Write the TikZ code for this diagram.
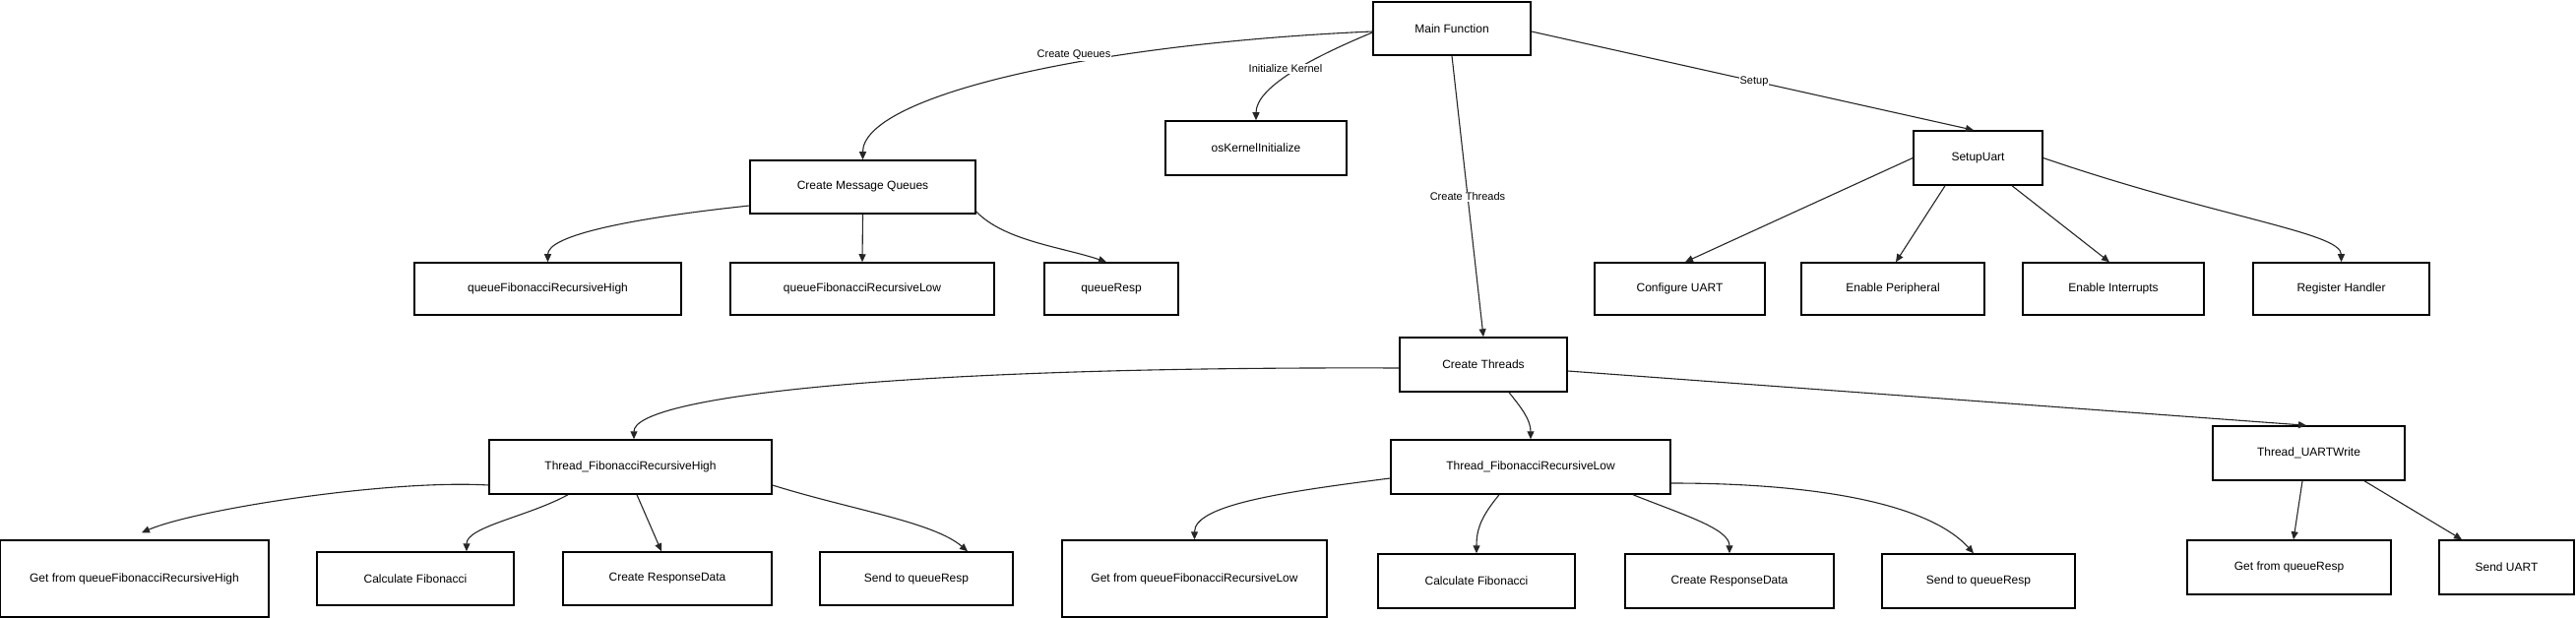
\documentclass[tikz,border=0pt]{standalone}
\usepackage{fontspec}
\setmainfont{Liberation Sans}
\usetikzlibrary{arrows.meta,calc}
\begin{document}
\begin{tikzpicture}[x=1pt,y=-1pt,
  box/.style={draw=black,line width=1.5pt,fill=white,inner sep=0pt,align=center,font=\fontsize{12}{14}\selectfont},
  conn/.style={draw=black!85,line width=1.1pt,-{Triangle[length=8pt,width=7pt]}},
  lbl/.style={fill=white,inner sep=1pt,font=\fontsize{11}{13}\selectfont}]
\fill[white] (0,0) rectangle (2617,628);
\useasboundingbox (0,0) rectangle (2617,628);

% top level
\node[box,minimum width=160pt,minimum height=54pt] (main) at (1475,29) {Main Function};
\node[box,minimum width=184pt,minimum height=55pt] (osk) at (1276,150.5) {osKernelInitialize};
\node[box,minimum width=229pt,minimum height=54pt] (cmq) at (876.5,190) {Create Message Queues};
\node[box,minimum width=131pt,minimum height=55pt] (setup) at (2009.5,160.5) {SetupUart};
\node[box,minimum width=170pt,minimum height=55pt] (ct) at (1507,370.5) {Create Threads};

% queue row
\node[box,minimum width=271pt,minimum height=53pt] (qh) at (556.5,293.5) {queueFibonacciRecursiveHigh};
\node[box,minimum width=268pt,minimum height=53pt] (ql) at (876,293.5) {queueFibonacciRecursiveLow};
\node[box,minimum width=136pt,minimum height=53pt] (qr) at (1129,293.5) {queueResp};

% uart row
\node[box,minimum width=173pt,minimum height=53pt] (cu) at (1706.5,293.5) {Configure UART};
\node[box,minimum width=186pt,minimum height=53pt] (ep) at (1923,293.5) {Enable Peripheral};
\node[box,minimum width=184pt,minimum height=53pt] (ei) at (2147,293.5) {Enable Interrupts};
\node[box,minimum width=179pt,minimum height=53pt] (rh) at (2378.5,293.5) {Register Handler};

% threads
\node[box,minimum width=287pt,minimum height=55pt] (th) at (640.5,474.5) {Thread\_FibonacciRecursiveHigh};
\node[box,minimum width=284pt,minimum height=55pt] (tl) at (1555,474.5) {Thread\_FibonacciRecursiveLow};
\node[box,minimum width=195pt,minimum height=55pt] (tu) at (2345.5,460.5) {Thread\_UARTWrite};

% bottom row
\node[box,minimum width=273pt,minimum height=78pt] (gh) at (136.5,588) {Get from queueFibonacciRecursiveHigh};
\node[box,minimum width=200pt,minimum height=54pt] (cf1) at (422,588) {Calculate Fibonacci};
\node[box,minimum width=212pt,minimum height=54pt] (cr1) at (678,588) {Create ResponseData};
\node[box,minimum width=196pt,minimum height=54pt] (sq1) at (931,588) {Send to queueResp};
\node[box,minimum width=269pt,minimum height=78pt] (gl) at (1213.5,588) {Get from queueFibonacciRecursiveLow};
\node[box,minimum width=200pt,minimum height=55pt] (cf2) at (1500,590.5) {Calculate Fibonacci};
\node[box,minimum width=212pt,minimum height=55pt] (cr2) at (1757,590.5) {Create ResponseData};
\node[box,minimum width=196pt,minimum height=55pt] (sq2) at (2010,590.5) {Send to queueResp};
\node[box,minimum width=207pt,minimum height=55pt] (gr) at (2325.5,576.5) {Get from queueResp};
\node[box,minimum width=137pt,minimum height=55pt] (su) at (2546.5,576.5) {Send UART};

% main edges
\draw[conn] ([yshift=-3pt]main.west) .. controls +(-295,13) and +(0,-63) .. (cmq.north);
\draw[conn] ([yshift=-4pt]main.west) .. controls +(-65,27) and +(0,-33) .. (osk.north);
\draw[conn] (main.south) -- (ct.north);
\draw[conn] ([yshift=-3pt]main.east) -- ([xshift=-4.5pt]setup.north);

% queues
\draw[conn] ([yshift=-19pt]cmq.west) .. controls +(-122,13) and +(0,-27) .. (qh.north);
\draw[conn] (cmq.south) -- (ql.north);
\draw[conn] ([yshift=-25pt]cmq.east) .. controls +(29,30) and +(-44,-15) .. ([xshift=-5pt]qr.north);

% setup uart
\draw[conn] (setup.west) -- ([xshift=5.5pt]cu.north);
\draw[conn] ([xshift=-33.5pt]setup.south) -- ([xshift=3pt]ep.north);
\draw[conn] ([xshift=34.5pt]setup.south) -- ([xshift=-4pt]ei.north);
\draw[conn] (setup.east) .. controls +(175,60) and +(0,-30) .. (rh.north);

% create threads
\draw[conn] ([yshift=-3.5pt]ct.west) .. controls +(-522,-2) and +(0,-42) .. ([xshift=3.5pt]th.north);
\draw[conn] ([xshift=26pt]ct.south) .. controls +(12,15) and +(0,-20) .. (tl.north);
\draw[conn] ([yshift=-6.5pt]ct.east) -- ([xshift=-2.5pt]tu.north);

% thread high
\draw[conn] ([yshift=-18.5pt]th.west) .. controls +(-100,-6) and +(56,-24) .. ([xshift=7.5pt,yshift=7pt]gh.north);
\draw[conn] ([xshift=-63.5pt]th.south) .. controls +(-40,22) and +(0,-25) .. ([xshift=52pt]cf1.north);
\draw[conn] ([xshift=6.5pt]th.south) -- ([xshift=-6pt]cr1.north);
\draw[conn] ([yshift=-18.5pt]th.east) .. controls +(80,25) and +(-35,-30) .. ([xshift=52pt]sq1.north);

% thread low
\draw[conn] ([yshift=-11.5pt]tl.west) .. controls +(-110,14) and +(0,-35) .. (gl.north);
\draw[conn] ([xshift=-32pt]tl.south) .. controls +(-18,22) and +(0,-25) .. (cf2.north);
\draw[conn] ([xshift=104pt]tl.south) .. controls +(50,20) and +(0,-25) .. (cr2.north);
\draw[conn] ([yshift=-16.5pt]tl.east) .. controls +(150,0) and +(-45,-50) .. ([xshift=-5pt]sq2.north);

% thread uart
\draw[conn] ([xshift=-6.5pt]tu.south) -- ([xshift=4.5pt]gr.north);
\draw[conn] ([xshift=56.5pt]tu.south) -- ([xshift=-45.5pt]su.north);

% edge labels
\node[lbl] (lq) at (1091,56) {Create Queues};
\node[lbl] (lk) at (1306,70) {Initialize Kernel};
\node[lbl] (lt) at (1491,200) {Create Threads};
\node[lbl] (ls) at (1782,83) {Setup};
\end{tikzpicture}
\end{document}
